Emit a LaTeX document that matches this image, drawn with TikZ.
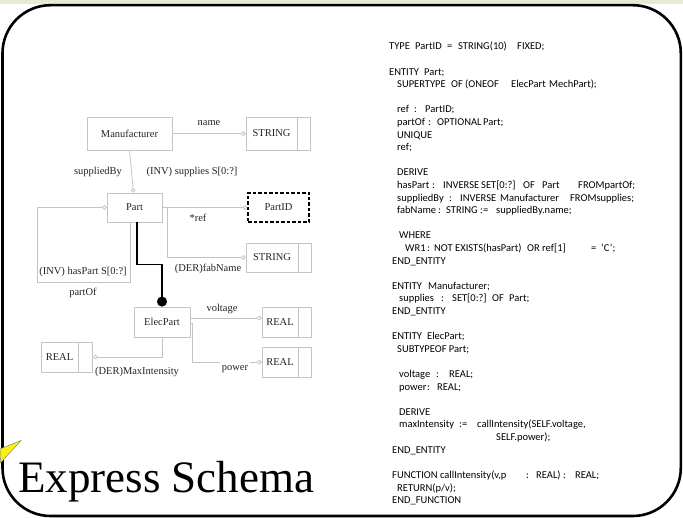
\documentclass[tikz,border=0pt]{standalone}
\usepackage{fontspec}
\setmainfont{Liberation Serif}
\newfontfamily\codefont{Carlito}
\usetikzlibrary{arrows.meta,calc}

\definecolor{band}{RGB}{234,234,212}
\definecolor{wire}{RGB}{196,196,196}
\definecolor{ink}{RGB}{35,35,35}
\definecolor{spark}{RGB}{250,240,20}

% fixed-width segment for tab-aligned listing text
\newcommand\seg[2]{\makebox[#1pt][l]{#2}}

\tikzset{
  lbl/.style={font=\fontsize{10.5}{12}\selectfont, text=ink, inner sep=0pt},
  entity/.style={draw=wire, line width=0.8pt, lbl, inner sep=0pt},
  pidbox/.style={draw=black, line width=1.4pt, dash pattern=on 3.5pt off 2pt, lbl},
  conn/.style={draw=wire, line width=0.8pt, -{Circle[open,length=4.6pt,width=4.6pt]}},
  supert/.style={draw=black, line width=1.4pt, -{Circle[length=10pt,width=10pt]}},
  code/.style={font=\codefont\fontsize{10.5}{12}\selectfont, anchor=base west, inner sep=0pt, text=black},
}

\newcommand\cl[3]{\node[code] at (#1,{50+12.6*#2}) {#3};}

\begin{document}
\begin{tikzpicture}[x=1pt,y=-1pt]
\useasboundingbox (0,0) rectangle (683,518);

% slide background and frame
\fill[band] (0,0) rectangle (683,4.5);
\draw[line width=2.6pt, rounded corners=48pt] (2.5,5.2) rectangle (680.8,516);
\filldraw[fill=spark, draw=black!55, line width=0.4pt] (0,449) -- (21,440.5) -- (0.5,463) -- cycle;

% title
\node[anchor=base west, inner sep=0pt, font=\fontsize{45}{48}\selectfont] (title) at (18,493) {Express Schema};

% ---------- EXPRESS-G diagram ----------
\node[entity, minimum width=85pt, minimum height=33pt] (man) at (129.5,133.5) {Manufacturer};
\node[entity, minimum width=51pt, minimum height=33pt] (str1) at (271.5,133.5) {STRING};
\node[entity, minimum width=13pt, minimum height=33pt, anchor=west] (str1b) at (str1.east) {};

\node[entity, minimum width=55pt, minimum height=29pt] (part) at (134.5,207.5) {Part};
\node[pidbox, minimum width=61pt, minimum height=29pt] (pid) at (278.5,207.5) {PartID};

\node[entity, minimum width=52pt, minimum height=29pt] (str2) at (272,257.5) {STRING};
\node[entity, minimum width=13pt, minimum height=29pt, anchor=west] (str2b) at (str2.east) {};

\node[entity, minimum width=56pt, minimum height=30pt] (elec) at (162,322) {ElecPart};

\node[entity, minimum width=36pt, minimum height=30pt] (real1) at (280,322) {REAL};
\node[entity, minimum width=13pt, minimum height=30pt, anchor=west] (real1b) at (real1.east) {};

\node[entity, minimum width=37pt, minimum height=30pt] (real2) at (59.5,357) {REAL};
\node[entity, minimum width=14pt, minimum height=30pt, anchor=west] (real2b) at (real2.east) {};

\node[entity, minimum width=36pt, minimum height=30pt] (real3) at (280,362) {REAL};
\node[entity, minimum width=13pt, minimum height=30pt, anchor=west] (real3b) at (real3.east) {};

% relations
\draw[conn] (man.east) -- (str1.west);
\draw[conn] (man.south) -- ([xshift=-1pt]part.north);
\draw[conn] ([xshift=-4.5pt]part.south) |- (37,282) |- (part.west);
\draw[conn] (part.east) -- (pid.west);
\draw[conn] ([xshift=5pt]part.east) |- (str2.west);
\draw[supert] ([xshift=2.5pt]part.south) -- ++(0,42) -| (elec.north);
\draw[conn] ([yshift=4pt]elec.east) -- ([yshift=4pt]real1.west);
\draw[conn] ([yshift=-1pt]elec.east) -- ++(2,0) |- (real3.west);
\draw[conn] (elec.south) |- (real2b.east);

% relation labels
\node[lbl] (lname) at (209,123) {name};
\node[lbl] (lsupby) at (98,171.5) {suppliedBy};
\node[lbl] (lsupp) at (192,171.5) {(INV) supplies S[0:?]};
\node[lbl] (lref) at (198,218) {*ref};
\node[lbl] (lfab) at (208,269) {(DER)fabName};
\node[lbl] (lhas) at (83,272) {(INV) hasPart S[0:?]};
\node[lbl] (lpartof) at (83,293) {partOf};
\node[lbl] (lvolt) at (222,309) {voltage};
\node[lbl, fill=white, inner xsep=2pt, inner ysep=3pt] (lpow) at (235,369) {power};
\node[lbl] (lmax) at (137,372) {(DER)MaxIntensity};

% ---------- EXPRESS listing ----------
\cl{389}{0}{\seg{26}{TYPE}\seg{32}{PartID}\seg{11}{=}\seg{59}{STRING(10)}FIXED;}
\cl{389}{2}{\seg{35}{ENTITY}Part;}
\cl{397}{3}{\seg{54}{SUPERTYPE}\seg{14}{OF}\seg{46}{(ONEOF}\seg{38}{ElecPart}MechPart);}
\cl{397}{5}{\seg{17}{ref}\seg{11}{:}PartID;}
\cl{397}{6}{\seg{31}{partOf}\seg{9}{:}\seg{46}{OPTIONAL}Part;}
\cl{397}{7}{UNIQUE}
\cl{397}{8}{ref;}
\cl{397}{10}{DERIVE}
\cl{397}{11}{\seg{35}{hasPart}\seg{11}{:}\seg{38}{INVERSE}\seg{42}{SET[0:?]}\seg{19}{OF}\seg{36}{Part}FROMpartOf;}
\cl{397}{12}{\seg{52}{suppliedBy}\seg{11}{:}\seg{40}{INVERSE}\seg{70}{Manufacturer}FROMsupplies;}
\cl{397}{13}{\seg{41}{fabName}\seg{8}{:}\seg{34}{STRING}\seg{16}{:=}suppliedBy.name;}
\cl{399}{15}{WHERE}
\cl{405}{16}{\seg{22}{WR1}\seg{7}{:}\seg{21}{NOT}\seg{72}{EXISTS(hasPart)}\seg{15}{OR}\seg{49}{ref[1]}\seg{10}{=}\textquoteleft C\textquoteright;}
\cl{392}{17}{END\_ENTITY}
\cl{392}{19}{\seg{36}{ENTITY}Manufacturer;}
\cl{399}{20}{\seg{42}{supplies}\seg{11}{:}\seg{40}{SET[0:?]}\seg{17}{OF}Part;}
\cl{392}{21}{END\_ENTITY}
\cl{392}{23}{\seg{35}{ENTITY}ElecPart;}
\cl{397}{24}{SUBTYPEOF Part;}
\cl{399}{26}{\seg{37}{voltage}\seg{13}{:}REAL;}
\cl{399}{27}{\seg{28}{power}\seg{10}{:}REAL;}
\cl{399}{29}{DERIVE}
\cl{399}{30}{\seg{60}{maxIntensity}\seg{18}{:=}callIntensity(SELF.voltage,}
\cl{496}{31}{SELF.power);}
\cl{392}{32}{END\_ENTITY}
\cl{392}{34}{\seg{134}{FUNCTION callIntensity(v,p}\seg{10}{:}\seg{27}{REAL)}\seg{12}{:}REAL;}
\cl{397}{35}{RETURN(p/v);}
\cl{392}{36}{END\_FUNCTION}
\end{tikzpicture}
\end{document}
